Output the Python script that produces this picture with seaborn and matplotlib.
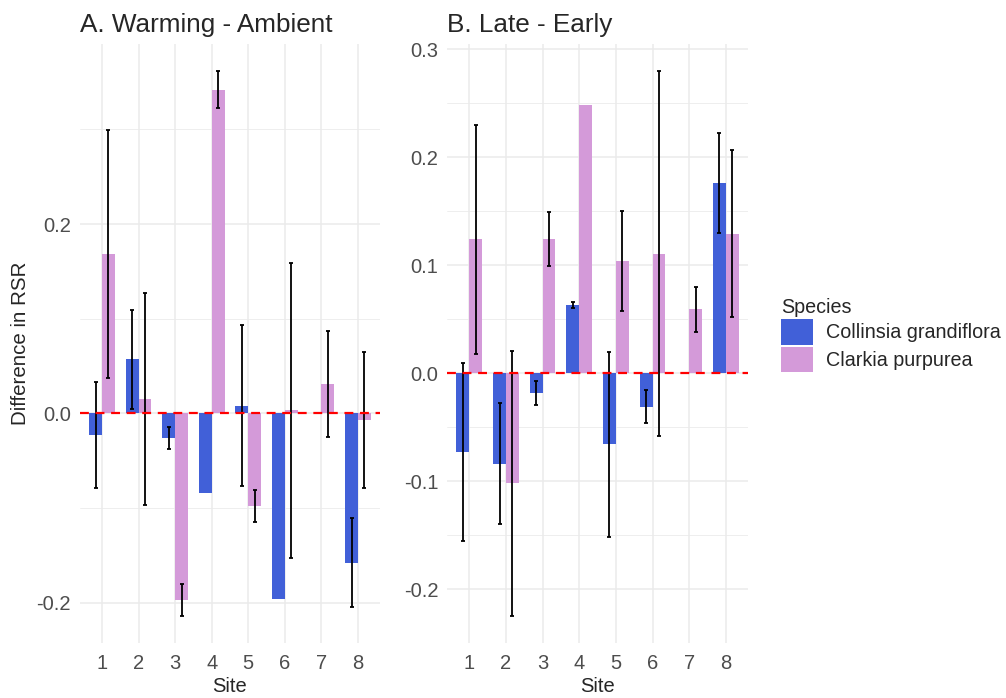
import numpy as np
import pandas as pd
import matplotlib
matplotlib.use("Agg")
import matplotlib.pyplot as plt
from matplotlib.patches import Patch
from matplotlib.ticker import FixedLocator
import seaborn as sns

# Dati
sites = ["1", "2", "3", "4", "5", "6", "7", "8"]
species = ["Collinsia grandiflora", "Clarkia purpurea"]
colors = ["#4160D8", "#D49AD9"]

# A. Warming - Ambient
warm_collinsia = [-0.023, 0.057, -0.026, -0.084, 0.008, -0.196, np.nan, -0.158]
warm_collinsia_se = [0.056, 0.052, 0.012, np.nan, 0.085, np.nan, np.nan, 0.047]
warm_clarkia = [0.168, 0.015, -0.197, 0.342, -0.098, 0.003, 0.031, -0.007]
warm_clarkia_se = [0.131, 0.112, 0.017, 0.0195, 0.017, 0.156, 0.056, 0.0715]

# B. Late - Early
late_collinsia = [-0.073, -0.084, -0.0185, 0.063, -0.066, -0.031, np.nan, 0.176]
late_collinsia_se = [0.082, 0.056, 0.011, 0.003, 0.0855, 0.015, np.nan, 0.0466]
late_clarkia = [0.124, -0.102, 0.124, 0.248, 0.104, 0.1105, 0.059, 0.129]
late_clarkia_se = [0.106, 0.1226, 0.025, np.nan, 0.0465, 0.169, 0.021, 0.0774]

sns.set_style("white")
plt.rcParams["font.family"] = ["Liberation Sans", "DejaVu Sans"]

fig = plt.figure(figsize=(10.06, 6.98), dpi=100)
ax1 = fig.add_axes([80 / 1006, 1 - 643 / 698, 300 / 1006, 599 / 698])
ax2 = fig.add_axes([447.3 / 1006, 1 - 643 / 698, 300.5 / 1006, 599 / 698])

bar_width = 0.7


def draw_panel(ax, vals_c, se_c, vals_p, se_p, title, majors, minors):
    df = pd.DataFrame({
        "Site": sites * 2,
        "Species": [species[0]] * 8 + [species[1]] * 8,
        "Diff": list(vals_c) + list(vals_p),
    })
    sns.barplot(data=df, x="Site", y="Diff", hue="Species", order=sites,
                hue_order=species, palette=colors, saturation=1,
                width=bar_width, errorbar=None, legend=False, ax=ax,
                zorder=2, linewidth=0)

    # barre di errore
    offsets = [-bar_width / 4, bar_width / 4]
    for off, v, s in zip(offsets, [vals_c, vals_p], [se_c, se_p]):
        v = np.array(v, dtype=float)
        s = np.array(s, dtype=float)
        ok = ~np.isnan(v) & ~np.isnan(s)
        x = np.arange(len(sites))[ok] + off
        ax.errorbar(x, v[ok], yerr=s[ok], fmt="none", ecolor="black",
                    elinewidth=1.3, capsize=1.6, capthick=1.3, zorder=4)

    ax.axhline(0, color="red", linestyle=(0, (4, 3)), linewidth=1.6, zorder=5)

    # limiti come ggplot (espansione 5%)
    allv = np.concatenate([np.array(vals_c) - np.array(se_c),
                           np.array(vals_c) + np.array(se_c),
                           np.array(vals_p) - np.array(se_p),
                           np.array(vals_p) + np.array(se_p),
                           vals_c, vals_p, [0]])
    lo, hi = np.nanmin(allv), np.nanmax(allv)
    pad = (hi - lo) * 0.05
    ax.set_ylim(lo - pad, hi + pad)
    ax.set_xlim(-0.6, len(sites) - 0.4)

    ax.yaxis.set_major_locator(FixedLocator(majors))
    ax.set_yticklabels([f"{m:.1f}" for m in majors])
    ax.yaxis.set_minor_locator(FixedLocator(minors))
    ax.grid(axis="y", which="major", color="#EBEBEB", linewidth=1.1, zorder=0)
    ax.grid(axis="y", which="minor", color="#EBEBEB", linewidth=0.6, zorder=0)
    ax.grid(axis="x", which="major", color="#EBEBEB", linewidth=1.1, zorder=0)
    ax.set_axisbelow(True)
    for sp in ax.spines.values():
        sp.set_visible(False)
    ax.tick_params(axis="both", which="both", length=0, labelsize=14.5,
                   labelcolor="#4D4D4D")
    ax.tick_params(axis="x", pad=8)
    ax.tick_params(axis="y", pad=6.5)
    ax.set_xlabel("Site", fontsize=14.5, labelpad=2.5)
    ax.set_title(title, loc="left", fontsize=18.8, pad=9)


draw_panel(ax1, warm_collinsia, warm_collinsia_se, warm_clarkia, warm_clarkia_se,
           "A. Warming - Ambient", [-0.2, 0.0, 0.2], [-0.1, 0.1, 0.3])
draw_panel(ax2, late_collinsia, late_collinsia_se, late_clarkia, late_clarkia_se,
           "B. Late - Early", [-0.2, -0.1, 0.0, 0.1, 0.2, 0.3],
           [-0.25, -0.15, -0.05, 0.05, 0.15, 0.25])

ax1.set_ylabel("Difference in RSR", fontsize=14.8, labelpad=5)
ax2.set_ylabel("")

handles = [Patch(facecolor=c, edgecolor="none") for c in colors]
fig.legend(handles, species, title="Species", loc="upper left",
           bbox_to_anchor=(781 / 1006, 1 - 298 / 698), frameon=False,
           fontsize=14.2, title_fontsize=14.2, alignment="left",
           handlelength=1.6, handleheight=1.6, handletextpad=0.7,
           labelspacing=0.12, borderpad=0, borderaxespad=0)

plt.savefig("out.png", dpi=100)
